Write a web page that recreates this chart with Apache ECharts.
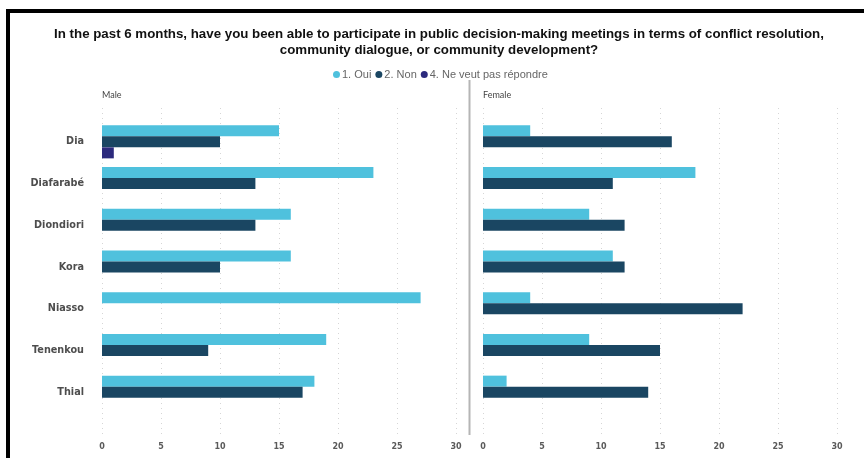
<!DOCTYPE html>
<html>
<head>
<meta charset="utf-8">
<script src="https://cdn.jsdelivr.net/npm/echarts@6/dist/echarts.min.js"></script>
<style>
  html, body { margin: 0; padding: 0; background: #fff; }
  #chart { width: 864px; height: 458px; }
</style>
</head>
<body>
<div id="chart"></div>
<script>
// Communes on the vertical axis (top to bottom)
const communes = ['Dia', 'Diafarabé', 'Diondiori', 'Kora', 'Niasso', 'Tenenkou', 'Thial'];

// Response names
const answers = ['1. Oui', '2. Non', '4. Ne veut pas répondre'];

// Male respondents per answer
const maleOui = [15, 23, 16, 16, 27, 19, 18];
const maleNon = [10, 13, 13, 10, 0, 9, 17];
const maleNoAnswer = [1, 0, 0, 0, 0, 0, 0];

// Female respondents per answer
const femaleOui = [4, 18, 9, 11, 4, 9, 2];
const femaleNon = [16, 11, 12, 12, 22, 15, 14];
const femaleNoAnswer = [0, 0, 0, 0, 0, 0, 0];

// Value axis ticks
const xTicks = { min: 0, max: 30, interval: 5 };

const colors = ['#4fc1dd', '#1a4662', '#2c2a7d'];
const chart = echarts.init(document.getElementById('chart'));

const panelLeft = [102, 483];
const panelWidth = 354;
const barTop = 121, barHeight = 292;
const lineTop = 108, lineHeight = 327;

const grids = [];
const xAxes = [];
const yAxes = [];
panelLeft.forEach(function (l) {
  grids.push({ left: l, top: barTop, width: panelWidth, height: barHeight });
});
panelLeft.forEach(function (l) {
  grids.push({ left: l, top: lineTop, width: panelWidth, height: lineHeight });
});

// bar panels
[0, 1].forEach(function (g) {
  xAxes.push({
    type: 'value', gridIndex: g, min: xTicks.min, max: xTicks.max, interval: xTicks.interval,
    axisLine: { show: false }, axisTick: { show: false }, splitLine: { show: false },
    axisLabel: { show: false }
  });
  yAxes.push({
    type: 'category', gridIndex: g, data: communes, inverse: true,
    axisLine: { show: false }, axisTick: { show: false },
    axisLabel: {
      show: g === 0, margin: 18, color: '#4d4d4d',
      fontFamily: 'DejaVu Sans, sans-serif', fontWeight: 'bold', fontSize: 9.7
    }
  });
});
// gridline / tick-label panels
[2, 3].forEach(function (g) {
  xAxes.push({
    type: 'value', gridIndex: g, min: xTicks.min, max: xTicks.max, interval: xTicks.interval,
    axisLine: { show: false }, axisTick: { show: false },
    splitLine: { show: true, lineStyle: { color: '#d6d6d6', type: [1, 4], width: 1 } },
    axisLabel: {
      margin: 8, color: '#5a5a5a', fontSize: 8, fontWeight: 'bold',
      fontFamily: 'DejaVu Sans, sans-serif'
    }
  });
  yAxes.push({
    type: 'value', gridIndex: g, min: 0, max: 1, show: false
  });
});

function bars(name, data, panel, color) {
  return {
    name: name, type: 'bar', xAxisIndex: panel, yAxisIndex: panel,
    data: data, barWidth: 11, barGap: '0%',
    itemStyle: { color: color }
  };
}

const series = [
  bars(answers[0], maleOui, 0, colors[0]),
  bars(answers[1], maleNon, 0, colors[1]),
  bars(answers[2], maleNoAnswer, 0, colors[2]),
  bars(answers[0], femaleOui, 1, colors[0]),
  bars(answers[1], femaleNon, 1, colors[1]),
  bars(answers[2], femaleNoAnswer, 1, colors[2])
];

chart.setOption({
  animation: false,
  color: colors,
  title: {
    text: 'In the past 6 months, have you been able to participate in public decision-making meetings in terms of conflict resolution,\ncommunity dialogue, or community development?',
    left: 434, top: 21, textAlign: 'center',
    textStyle: {
      fontFamily: 'Liberation Sans, Arial, sans-serif', fontWeight: 'bold',
      fontSize: 13.3, lineHeight: 16, color: '#111'
    }
  },
  legend: {
    data: answers, left: 328, top: 64,
    icon: 'circle', itemWidth: 7, itemHeight: 7, itemGap: 4,
    textStyle: { color: '#666', fontSize: 11, fontFamily: 'Liberation Sans, Arial, sans-serif', padding: [0, 0, 0, -3] }
  },
  grid: grids,
  xAxis: xAxes,
  yAxis: yAxes,
  series: series,
  graphic: [
    { type: 'polyline', shape: { points: [[8, 458], [8, 11], [864, 11]] },
      style: { stroke: '#000', lineWidth: 4, fill: null } },
    { type: 'line', shape: { x1: 469.5, y1: 80, x2: 469.5, y2: 435 },
      style: { stroke: '#b5b5b5', lineWidth: 2 } },
    { type: 'text', left: 102, top: 91,
      style: { text: 'Male', fontSize: 9, fill: '#444', fontFamily: 'Lato, sans-serif' } },
    { type: 'text', left: 483, top: 91,
      style: { text: 'Female', fontSize: 9, fill: '#444', fontFamily: 'Lato, sans-serif' } }
  ]
});
</script>
</body>
</html>
